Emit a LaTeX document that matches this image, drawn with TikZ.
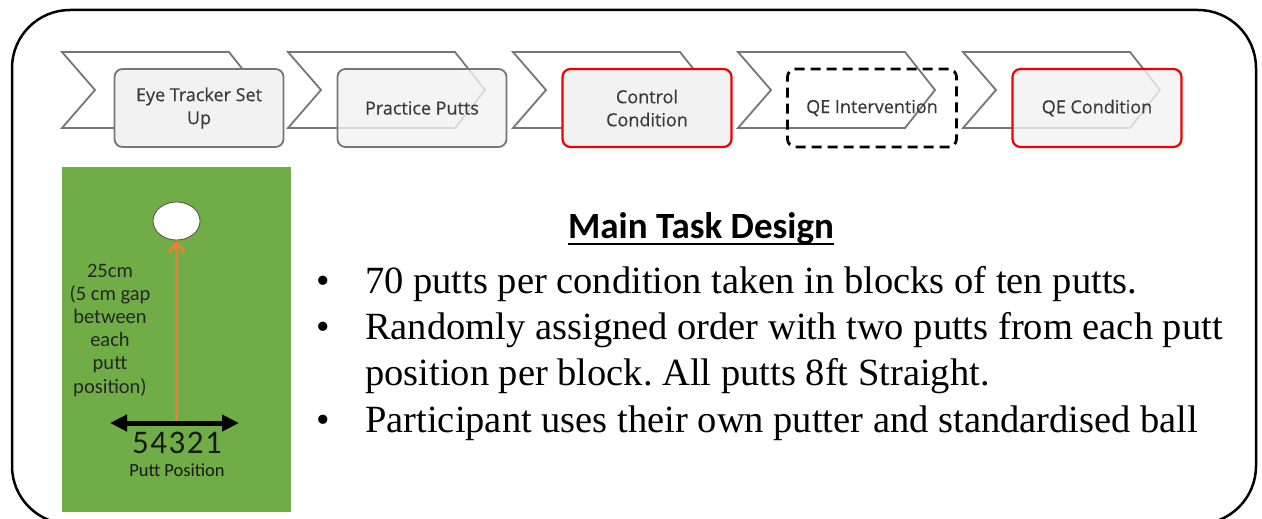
\documentclass[tikz,border=0pt]{standalone}
\usepackage{fontspec}
\setmainfont{Liberation Serif}
\newfontfamily\boxfont[FakeBold=0.4]{Open Sans}
\newfontfamily\calibri{Carlito}
\usepackage{tikz}
\usetikzlibrary{arrows.meta}
\usetikzlibrary{shapes.geometric}
\usepackage{xcolor}
\frenchspacing
\definecolor{grass}{RGB}{112,173,71}
\definecolor{putt}{RGB}{237,125,49}
\definecolor{boxgray}{RGB}{242,242,242}
\definecolor{linegray}{RGB}{118,118,118}
\definecolor{textgray}{RGB}{58,58,58}
\tikzstyle{chevron}=[draw=linegray,line width=1.8,fill=white]
\tikzstyle{stage}=[draw=linegray,line width=1.8,fill=boxgray,rounded corners=8,minimum width=169,minimum height=78,align=center,text=textgray,font=\boxfont\fontsize{18}{23}\selectfont]
\tikzstyle{stage red}=[stage,draw=red!95!black,line width=2.2]
\tikzstyle{stage dashed}=[stage,draw=black,fill=none,line width=2.8,dash pattern=on 10pt off 6pt]
\tikzstyle{hole}=[ellipse,draw=black!70,fill=white,line width=0.8,minimum width=47,minimum height=38,inner sep=0]
\tikzstyle{green label}=[align=center,text=black!85,inner sep=0,font=\calibri\fontsize{20.5}{23.2}\selectfont]
\tikzstyle{bullet line}=[anchor=base west,inner sep=0,font=\fontsize{38.5}{46}\selectfont]

\begin{document}
\begin{tikzpicture}[x=1pt,y=-1pt]
  \useasboundingbox (0,0) rectangle (1262,519);
  % FRAME
  \begin{scope}
    \clip (0,0) rectangle (1262,519);
    \draw[line width=2.5,rounded corners=58]
      (12,524) -- (12,10) -- (1256,10) -- (1256,524) -- cycle;
  \end{scope}

  % STAGES
  \foreach \x in {62,288,513,738,963}{
    \draw[chevron] (\x,52) -- ++(167,0) -- ++(30,38) -- ++(-30,38)
      -- ++(-167,0) -- ++(33,-38) -- cycle;
  }
  \node[stage] (eye) at (199,108) {Eye Tracker Set\\Up};
  \node[stage,fill opacity=0.8,text opacity=1] (practice) at (422,108) {Practice Putts};
  \node[stage red] (control) at (647,108) {Control\\Condition};
  \node[stage dashed] (qe int) at (872,108) {QE Intervention};
  \node[stage red,fill opacity=0.8,text opacity=1] (qe cond) at (1097,108) {QE Condition};

  % GREEN
  \fill[grass] (62,167) rectangle (291,512);
  \node[hole] (hole) at (176.5,221) {};
  \coordinate (left end) at (110,423);
  \coordinate (right end) at (239,423);
  \coordinate (tee) at (176.5,421);
  \draw[putt,line width=3.5,-{Straight Barb[length=9pt,width=16pt]}] (tee) -- (hole);
  \draw[line width=5,{Triangle[length=17pt,width=16pt]}-{Triangle[length=17pt,width=16pt]}]
    (left end) -- (right end);
  \node[green label] (gap) at (110,330) {25cm\\(5 cm gap\\between\\each\\putt\\position)};
  \node[anchor=base,inner sep=0,text=black!90,font=\calibri\fontsize{33}{33}\selectfont]
    (positions) at (177,453) {5\kern1.5pt4\kern1.5pt3\kern1.5pt2\kern1.5pt1};
  \node[anchor=base,inner sep=0,text=black!90,font=\calibri\fontsize{18.5}{20}\selectfont]
    (putt pos) at (177,476) {Putt Position};

  % TEXT
  \node[anchor=base,inner sep=0,font=\calibri\bfseries\fontsize{37}{40}\selectfont]
    (title) at (701,238) {Main Task Design};
  \draw[line width=1.6] ([yshift=-6pt]title.base west) -- ([yshift=-6pt]title.base east);
  \foreach \y/\t [count=\i] in {293/{70 putts per condition taken in blocks of ten putts.},
      339/{Randomly assigned order with two putts from each putt},
      385/{position per block. All putts 8ft Straight.},
      432/{Participant uses their own putter and standardised ball}}{
    \node[bullet line] (line \i) at (365,\y) {\t};
  }
  \foreach \y [count=\i] in {293,339,432}{
    \node[anchor=base,inner sep=0,font=\fontsize{38.5}{46}\selectfont] (dot \i) at (323,\y) {\textbullet};
  }
\end{tikzpicture}
\end{document}
